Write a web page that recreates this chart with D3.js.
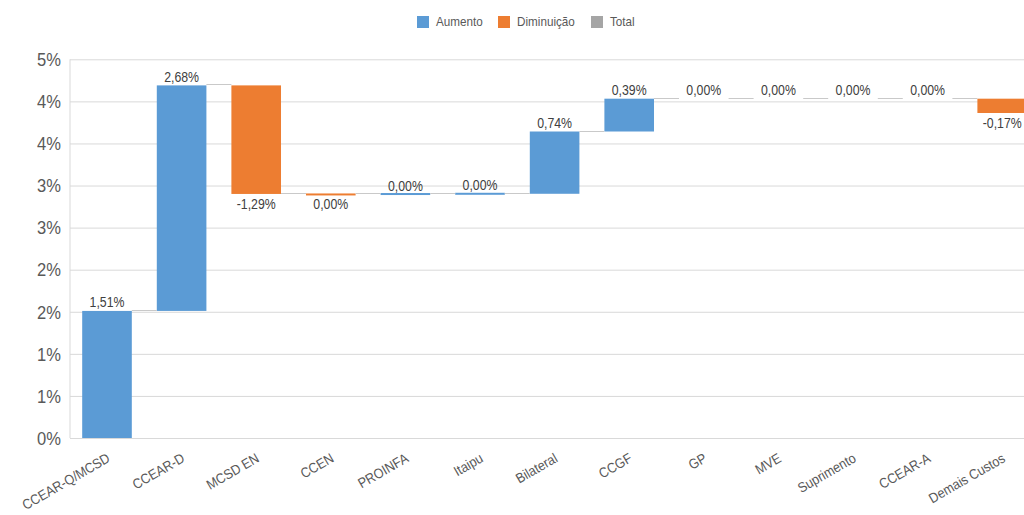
<!DOCTYPE html>
<html>
<head>
<meta charset="utf-8">
<script src="https://cdn.jsdelivr.net/npm/d3@7/dist/d3.min.js"></script>
<style>
  html, body { margin: 0; padding: 0; background: #fff; }
  svg { display: block; font-family: Arial, "Liberation Sans", sans-serif; }
</style>
</head>
<body>
<svg id="chart" width="1024" height="515"></svg>
<script>
// ---- Data ----
const categories = ["CCEAR-Q/MCSD", "CCEAR-D", "MCSD EN", "CCEN", "PROINFA", "Itaipu", "Bilateral", "CCGF", "GP", "MVE", "Suprimento", "CCEAR-A", "Demais Custos"];
const changes = [1.51, 2.68, -1.29, -0.004, 0.003, 0.003, 0.74, 0.39, 0.0, 0.0, 0.0, 0.0, -0.17];
const tickValues = [0, 0.5, 1, 1.5, 2, 2.5, 3, 3.5, 4, 4.5];
const tickLabels = ["0%", "1%", "1%", "2%", "2%", "3%", "3%", "4%", "4%", "5%"];
const legendItems = ["Aumento", "Diminuição", "Total"];
const legendColors = ["#5B9BD5", "#ED7D31", "#A5A5A5"];

(function () {
// ---- Build waterfall ----
let cum = 0;
const bars = categories.map((c, i) => {
  const start = cum;
  cum += changes[i];
  return { cat: c, value: changes[i], start: start, end: cum };
});

const svg = d3.select("#chart");
const plotLeft = 70, plotBottom = 438, plotTop = 59.3;
const x = d3.scaleBand().domain(categories).range([69.7, 1039.5]).paddingInner(0.335).paddingOuter(0.1675);
const y = d3.scaleLinear().domain([0, 4.5]).range([plotBottom, plotTop]);
const SX = 0.9;

// gridlines
const yAxis = d3.axisLeft(y).tickValues(tickValues).tickSize(-(1024 - plotLeft)).tickFormat((d, i) => tickLabels[i]);
const gy = svg.append("g").attr("transform", `translate(${plotLeft},0)`).call(yAxis);
gy.select(".domain").attr("stroke", "#D9D9D9").attr("d", `M0,${plotTop}V${plotBottom}`);
gy.selectAll(".tick line").attr("stroke", "#D9D9D9").attr("stroke-width", 1);
gy.selectAll(".tick text")
  .attr("x", null).attr("dy", null)
  .attr("fill", "#595959")
  .attr("font-size", "18px")
  .attr("text-anchor", "end")
  .attr("dominant-baseline", "central")
  .attr("transform", `translate(-9,0) scale(0.92,1)`);

// bars
const minH = 2;
svg.append("g").selectAll("rect").data(bars).join("rect")
  .attr("x", d => x(d.cat))
  .attr("width", x.bandwidth())
  .attr("y", d => {
    const t = y(Math.max(d.start, d.end));
    const h = Math.abs(y(d.start) - y(d.end));
    if (d.value !== 0 && h < minH) return d.value > 0 ? y(d.end) - minH / 2 : y(d.start) - minH / 2 + 0.5;
    return t;
  })
  .attr("height", d => {
    const h = Math.abs(y(d.start) - y(d.end));
    if (d.value === 0) return 0;
    return Math.max(h, minH);
  })
  .attr("fill", d => d.value >= 0 ? legendColors[0] : legendColors[1]);

// connectors
const conn = bars.slice(0, -1).map((d, i) => ({ x1: x(d.cat) + x.bandwidth(), x2: x(categories[i + 1]), yv: d.end }));
svg.append("g").selectAll("line").data(conn).join("line")
  .attr("x1", d => d.x1).attr("x2", d => d.x2)
  .attr("y1", d => Math.round(y(d.yv)) - 0.5).attr("y2", d => Math.round(y(d.yv)) - 0.5)
  .attr("stroke", "#C9C9C9").attr("stroke-width", 1);

// data labels
const fmt = v => {
  const a = Math.abs(v) < 0.005 ? 0 : v;
  return (a < 0 ? "-" : "") + Math.abs(a).toFixed(2).replace(".", ",") + "%";
};
svg.append("g").selectAll("text").data(bars).join("text")
  .attr("transform", d => {
    const cx = x(d.cat) + x.bandwidth() / 2;
    const yy = d.value >= 0 ? y(d.end) - 3.5 : y(d.end) + 15;
    return `translate(${cx},${yy}) scale(0.88,1)`;
  })
  .attr("text-anchor", "middle")
  .attr("font-size", "14px")
  .attr("fill", "#404040")
  .text(d => fmt(d.value));

// x labels
svg.append("g").selectAll("text").data(categories).join("text")
  .attr("transform", d => `translate(${x(d) + x.bandwidth() / 2 + 4},461) rotate(-30) scale(${SX},1)`)
  .attr("text-anchor", "end")
  .attr("font-size", "14px")
  .attr("fill", "#595959")
  .text(d => d);

// legend
const legendX = [417, 498, 591];
const lg = svg.append("g");
legendItems.forEach((t, i) => {
  lg.append("rect").attr("x", legendX[i]).attr("y", 16).attr("width", 12).attr("height", 12).attr("fill", legendColors[i]);
  lg.append("text")
    .attr("transform", `translate(${legendX[i] + 19},22) scale(${SX},1)`)
    .attr("dominant-baseline", "central")
    .attr("font-size", "13px")
    .attr("fill", "#595959")
    .text(t);
});
})();
</script>
</body>
</html>
